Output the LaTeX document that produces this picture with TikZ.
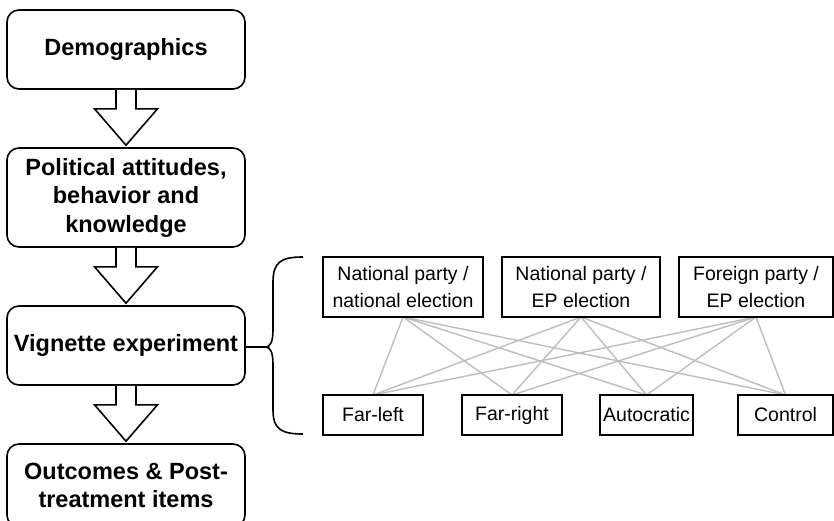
\documentclass[tikz,border=0pt]{standalone}
\usepackage{fontspec}
\setmainfont{Liberation Sans}
\usetikzlibrary{calc}
\tikzset{
  stagebox/.style={draw=black, line width=1.6pt, rounded corners=12pt, fill=white,
    minimum width=238pt, align=center, inner sep=0pt,
    font=\bfseries\fontsize{23.5}{28.5}\selectfont},
  condbox/.style={draw=black, line width=1.6pt, fill=white, align=center, inner sep=0pt,
    font=\fontsize{19.5}{27.5}\selectfont},
  blockarrow/.style={draw=black, line width=1.6pt, fill=white, line join=miter},
  link/.style={draw=black!26, line width=1.4pt},
  bracestyle/.style={draw=black, line width=1.6pt}
}
\begin{document}
\begin{tikzpicture}[x=1pt,y=-1pt]
\useasboundingbox (0,0) rectangle (834,520);
\begin{scope}
\clip (0,0) rectangle (834,520);
% left stages
\node[stagebox, minimum height=79pt] (demo) at (126,49.5) {Demographics};
\node[stagebox, minimum height=99pt] (pol) at (126,197.5) {Political attitudes,\\behavior and\\knowledge};
\node[stagebox, minimum height=79pt] (vig) at (126,345.5) {Vignette experiment};
\node[stagebox, minimum height=83pt] (out) at (126,485.5) {Outcomes \& Post-\\treatment items};

% block arrows
\foreach \a/\b in {demo/pol, pol/vig, vig/out}{
  \draw[blockarrow] let \p1=(\a.south), \p2=(\b.north) in
    (\x1-10pt,\y1) -- (\x1-10pt,\y1-19pt) -- (\x1-31.5pt,\y1-19pt) -- (\x1,\y2+2pt)
    -- (\x1+31.5pt,\y1-19pt) -- (\x1+10pt,\y1-19pt) -- (\x1+10pt,\y1);
}

% brace
\coordinate (bracetip) at ($(vig.east)+(20,1.5)$);
\draw[bracestyle] (vig.east |- bracetip) -- (bracetip);
\draw[bracestyle] (303,257) .. controls (281,257) and (273,262) .. (273,282)
  -- (273,330) .. controls (273,342) and (270,347) .. (bracetip)
  .. controls (270,347) and (273,352) .. (273,364)
  -- (273,410) .. controls (273,429) and (281,434) .. (303,434);

% connections (drawn first so boxes sit on top)
\coordinate (t1) at (403,317);
\coordinate (t2) at (581,317);
\coordinate (t3) at (756,317);
\coordinate (b1) at (373,395);
\coordinate (b2) at (512,395);
\coordinate (b3) at (646.5,395);
\coordinate (b4) at (785.5,395);
\foreach \t in {t1,t2,t3}{
  \foreach \b in {b1,b2,b3,b4}{
    \draw[link] (\t) -- (\b);
  }
}

% conditions
\node[condbox, minimum width=160pt, minimum height=60pt] (np) at (403,287) {National party /\\national election};
\node[condbox, minimum width=158pt, minimum height=60pt] (ep) at (581,287) {National party /\\EP election};
\node[condbox, minimum width=154pt, minimum height=60pt] (fp) at (756,287) {Foreign party /\\EP election};
\node[condbox, minimum width=100pt, minimum height=40pt] (fl) at (373,415) {Far-left};
\node[condbox, minimum width=100pt, minimum height=40pt] (fr) at (512,415) {Far-right};
\node[condbox, minimum width=93pt, minimum height=40pt] (au) at (646.5,415) {Autocratic};
\node[condbox, minimum width=95pt, minimum height=40pt] (co) at (785.5,415) {Control};
\end{scope}
\end{tikzpicture}
\end{document}
